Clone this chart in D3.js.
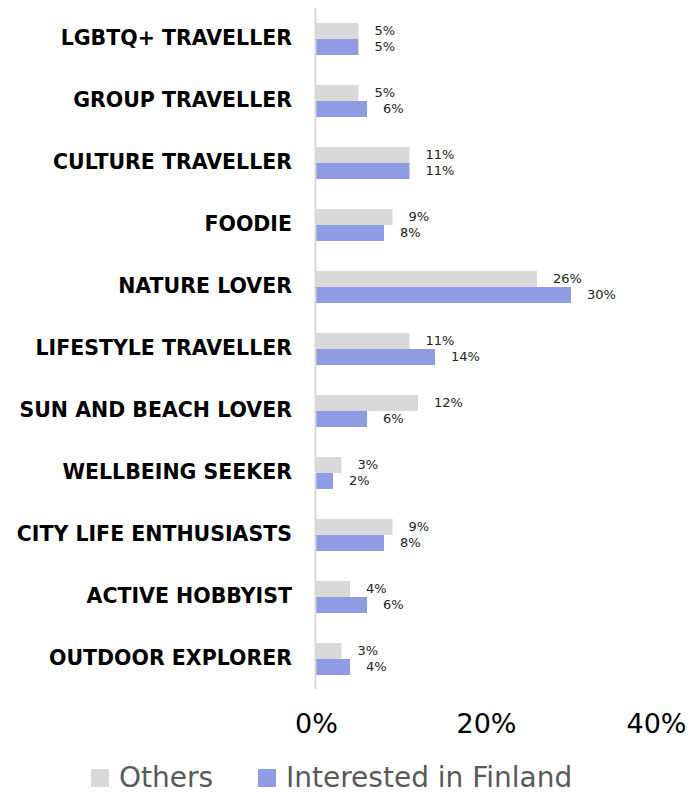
<!DOCTYPE html>
<html>
<head>
<meta charset="utf-8">
<script src="https://cdn.jsdelivr.net/npm/d3@7"></script>
<style>
  html, body { margin: 0; padding: 0; background: #fff; }
  svg { display: block; }
</style>
</head>
<body>
<svg id="chart" width="691" height="793"></svg>
<script>
// Traveller segments, top to bottom
const categories = [
  "LGBTQ+ TRAVELLER",
  "GROUP TRAVELLER",
  "CULTURE TRAVELLER",
  "FOODIE",
  "NATURE LOVER",
  "LIFESTYLE TRAVELLER",
  "SUN AND BEACH LOVER",
  "WELLBEING SEEKER",
  "CITY LIFE ENTHUSIASTS",
  "ACTIVE HOBBYIST",
  "OUTDOOR EXPLORER"
];
const seriesNames = ["Others", "Interested in Finland"];
const othersValues = [5, 5, 11, 9, 26, 11, 12, 3, 9, 4, 3];
const finlandValues = [5, 6, 11, 8, 30, 14, 6, 2, 8, 6, 4];
const tickValues = [0, 20, 40];
const colors = ["#d9d9d9", "#8f9be2"];

const svg = d3.select("#chart");

const x = d3.scaleLinear().domain([0, 40]).range([316, 656]);
const y = d3.scaleBand().domain(categories).range([8, 690]).paddingInner(0.484).paddingOuter(0.242);
const sub = d3.scaleBand().domain(seriesNames).range([0, y.bandwidth()]);

const rows = categories.map((c, i) => ({ cat: c, vals: [othersValues[i], finlandValues[i]] }));

// Bars
const g = svg.append("g");
const grp = g.selectAll("g.row").data(rows).join("g")
  .attr("class", "row")
  .attr("transform", d => `translate(0,${y(d.cat)})`);

grp.selectAll("rect").data(d => d.vals.map((v, k) => ({ v, k }))).join("rect")
  .attr("x", x(0))
  .attr("y", d => sub(seriesNames[d.k]))
  .attr("width", d => x(d.v) - x(0))
  .attr("height", sub.bandwidth())
  .attr("fill", d => colors[d.k]);

// Value labels
grp.selectAll("text.val").data(d => d.vals.map((v, k) => ({ v, k }))).join("text")
  .attr("class", "val")
  .attr("x", d => x(d.v) + 16)
  .attr("y", d => sub(seriesNames[d.k]) + sub.bandwidth() / 2 + 1)
  .attr("dominant-baseline", "middle")
  .attr("font-family", "'DejaVu Sans', sans-serif")
  .attr("font-size", 13)
  .attr("fill", "#222")
  .text(d => d.v + "%");

// Category axis line
svg.append("line")
  .attr("x1", x(0) - 0.5).attr("x2", x(0) - 0.5)
  .attr("y1", 8).attr("y2", 689)
  .attr("stroke", "#d9d9d9").attr("stroke-width", 2);

// Category labels
svg.append("g").selectAll("text").data(categories).join("text")
  .attr("x", 292)
  .attr("y", d => y(d) + y.bandwidth() / 2)
  .attr("text-anchor", "end")
  .attr("dominant-baseline", "middle")
  .attr("font-family", "'DejaVu Sans', sans-serif")
  .attr("font-weight", "bold")
  .attr("font-size", 20.5)
  .attr("fill", "#000")
  .text(d => d);

// Value axis tick labels
const xAxis = d3.axisBottom(x).tickValues(tickValues).tickFormat(d => d + "%").tickSize(0).tickPadding(0);
const ax = svg.append("g").attr("transform", "translate(0,714)").call(xAxis);
ax.select(".domain").remove();
ax.selectAll("text")
  .attr("font-family", "'DejaVu Sans', sans-serif")
  .attr("font-size", 27)
  .attr("fill", "#000")
  .attr("dy", "0.71em");

// Legend
const legendItems = [
  { name: seriesNames[0], color: colors[0], x: 91 },
  { name: seriesNames[1], color: colors[1], x: 258 }
];
const lg = svg.append("g").selectAll("g").data(legendItems).join("g")
  .attr("transform", d => `translate(${d.x},769)`);
lg.append("rect").attr("width", 18).attr("height", 18).attr("fill", d => d.color);
lg.append("text")
  .attr("x", 28).attr("y", 18)
  .attr("font-family", "'DejaVu Sans', sans-serif")
  .attr("font-size", 28)
  .attr("fill", "#595959")
  .text(d => d.name);
</script>
</body>
</html>
